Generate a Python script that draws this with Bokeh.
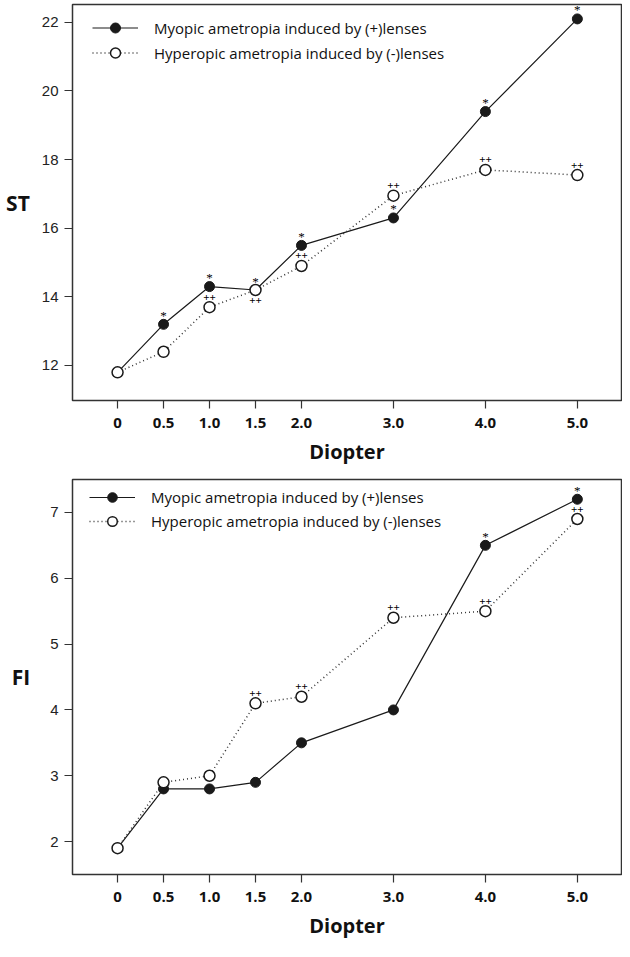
from bokeh.plotting import figure
from bokeh.models import (Range1d, FixedTicker, Legend, LegendItem,
                          ColumnDataSource, LabelSet)
from bokeh.layouts import column
from bokeh.embed import file_html
from bokeh.resources import INLINE

# ---------------- data ----------------
diopter = [0, 0.5, 1.0, 1.5, 2.0, 3.0, 4.0, 5.0]
x_tick_labels = ["0", "0.5", "1.0", "1.5", "2.0", "3.0", "4.0", "5.0"]

st_myopic = [11.8, 13.2, 14.3, 14.2, 15.5, 16.3, 19.4, 22.1]
st_hyperopic = [11.8, 12.4, 13.7, 14.2, 14.9, 16.95, 17.7, 17.55]
st_myopic_sig = ["", "*", "*", "*", "*", "*", "*", "*"]
st_hyperopic_sig = ["", "", "++", "++", "++", "++", "++", "++"]
st_hyperopic_sig_side = [1, 1, 1, -1, 1, 1, 1, 1]   # 1 = above, -1 = below
st_ticks = [12, 14, 16, 18, 20, 22]

fi_myopic = [1.9, 2.8, 2.8, 2.9, 3.5, 4.0, 6.5, 7.2]
fi_hyperopic = [1.9, 2.9, 3.0, 4.1, 4.2, 5.4, 5.5, 6.9]
fi_myopic_sig = ["", "", "", "", "", "", "*", "*"]
fi_hyperopic_sig = ["", "", "", "++", "++", "++", "++", "++"]
fi_hyperopic_sig_side = [1, 1, 1, 1, 1, 1, 1, 1]
fi_ticks = [2, 3, 4, 5, 6, 7]

label_myopic = "Myopic ametropia induced by (+)lenses"
label_hyperopic = "Hyperopic ametropia induced by (-)lenses"

INK = "#1a1a1a"
FONT = "Open Sans"


def make_panel(ylabel, y_myo, y_hyp, sig_myo, sig_hyp, sig_side, yticks,
               yrange, border_top, frame_h, border_bottom, legend_x,
               legend_top, glyph_h, ylabel_standoff):
    height = border_top + frame_h + border_bottom
    p = figure(width=622, height=height, output_backend="svg",
               toolbar_location=None, x_range=Range1d(-0.49, 5.48),
               y_range=Range1d(*yrange),
               min_border_left=72, min_border_right=1,
               min_border_top=border_top, min_border_bottom=border_bottom)
    p.xgrid.visible = False
    p.ygrid.visible = False
    p.background_fill_color = "white"
    p.border_fill_color = "white"
    p.outline_line_color = "#333333"
    p.outline_line_width = 1.5

    l1 = p.line(diopter, y_myo, line_color=INK, line_width=1.2)
    s1 = p.scatter(diopter, y_myo, size=10, marker="circle",
                   fill_color=INK, line_color=INK, line_width=1)
    l2 = p.line(diopter, y_hyp, line_color="#333333", line_width=1.5,
                line_dash="1 3")
    s2 = p.scatter(diopter, y_hyp, size=11, marker="circle",
                   fill_color="white", line_color=INK, line_width=1.5)

    # significance marks
    ax, ay, at, ao = [], [], [], []
    for xi, yi, t in zip(diopter, y_myo, sig_myo):
        if t:
            ax.append(xi); ay.append(yi); at.append(t); ao.append(9)
    src1 = ColumnDataSource(dict(x=ax, y=ay, t=at, o=ao))
    p.add_layout(LabelSet(x="x", y="y", text="t", y_offset="o", source=src1,
                          text_align="center", text_baseline="middle",
                          text_font=FONT, text_font_size="13px",
                          text_color="#000000"))
    bx, by, bt, bo = [], [], [], []
    for xi, yi, t, sd in zip(diopter, y_hyp, sig_hyp, sig_side):
        if t:
            bx.append(xi); by.append(yi); bt.append(t); bo.append(10 * sd)
    src2 = ColumnDataSource(dict(x=bx, y=by, t=bt, o=bo))
    p.add_layout(LabelSet(x="x", y="y", text="t", y_offset="o", source=src2,
                          text_align="center", text_baseline="middle",
                          text_font=FONT, text_font_size="11px",
                          text_font_style="bold", text_color="#000000"))

    # axes
    p.xaxis.ticker = FixedTicker(ticks=diopter)
    p.xaxis.major_label_overrides = {d: s for d, s in zip(diopter, x_tick_labels)}
    p.yaxis.ticker = FixedTicker(ticks=yticks)
    for ax_ in (p.xaxis[0], p.yaxis[0]):
        ax_.axis_line_color = None
        ax_.major_tick_out = 8
        ax_.major_tick_in = 0
        ax_.minor_tick_line_color = None
        ax_.major_tick_line_color = "#333333"
        ax_.major_tick_line_width = 1.2
    p.xaxis.major_label_text_font = FONT
    p.xaxis.major_label_text_font_style = "bold"
    p.xaxis.major_label_text_font_size = "15px"
    p.xaxis.major_label_text_color = "#111111"
    p.xaxis.major_label_standoff = 9
    p.xaxis.axis_label = "Diopter"
    p.xaxis.axis_label_text_font = FONT
    p.xaxis.axis_label_text_font_style = "bold"
    p.xaxis.axis_label_text_font_size = "20px"
    p.xaxis.axis_label_text_color = "#111111"
    p.xaxis.axis_label_standoff = 7

    p.yaxis.major_label_text_font = "Liberation Sans"
    p.yaxis.major_label_text_font_size = "15px"
    p.yaxis.major_label_text_color = "#222222"
    p.yaxis.major_label_standoff = 6
    p.yaxis.axis_label = ylabel
    p.yaxis.axis_label_orientation = "horizontal"
    p.yaxis.axis_label_text_font = FONT
    p.yaxis.axis_label_text_font_style = "bold"
    p.yaxis.axis_label_text_font_size = "21px"
    p.yaxis.axis_label_text_color = "#111111"
    p.yaxis.axis_label_standoff = ylabel_standoff

    pad = 5
    legend_h = 2 * glyph_h + 2 * pad
    legend = Legend(items=[LegendItem(label=label_myopic, renderers=[l1, s1]),
                           LegendItem(label=label_hyperopic, renderers=[l2, s2])],
                    location=(legend_x, frame_h - legend_top - legend_h),
                    margin=0, padding=pad, spacing=0,
                    glyph_width=46, glyph_height=glyph_h, label_height=glyph_h,
                    label_standoff=16, border_line_color=None,
                    background_fill_alpha=0,
                    label_text_font=FONT, label_text_font_size="15px",
                    label_text_color="#111111")
    p.add_layout(legend)
    return p


p1 = make_panel("ST", st_myopic, st_hyperopic, st_myopic_sig, st_hyperopic_sig,
                st_hyperopic_sig_side, st_ticks, (10.98, 22.52), 4, 396, 78,
                20, 1, 25, 9)
p2 = make_panel("FI", fi_myopic, fi_hyperopic, fi_myopic_sig, fi_hyperopic_sig,
                fi_hyperopic_sig_side, fi_ticks, (1.5, 7.5), 1, 401, 61,
                17, 2, 24, 17)

layout = column(p1, p2, spacing=0)
open("out.html", "w").write(file_html(layout, INLINE))
